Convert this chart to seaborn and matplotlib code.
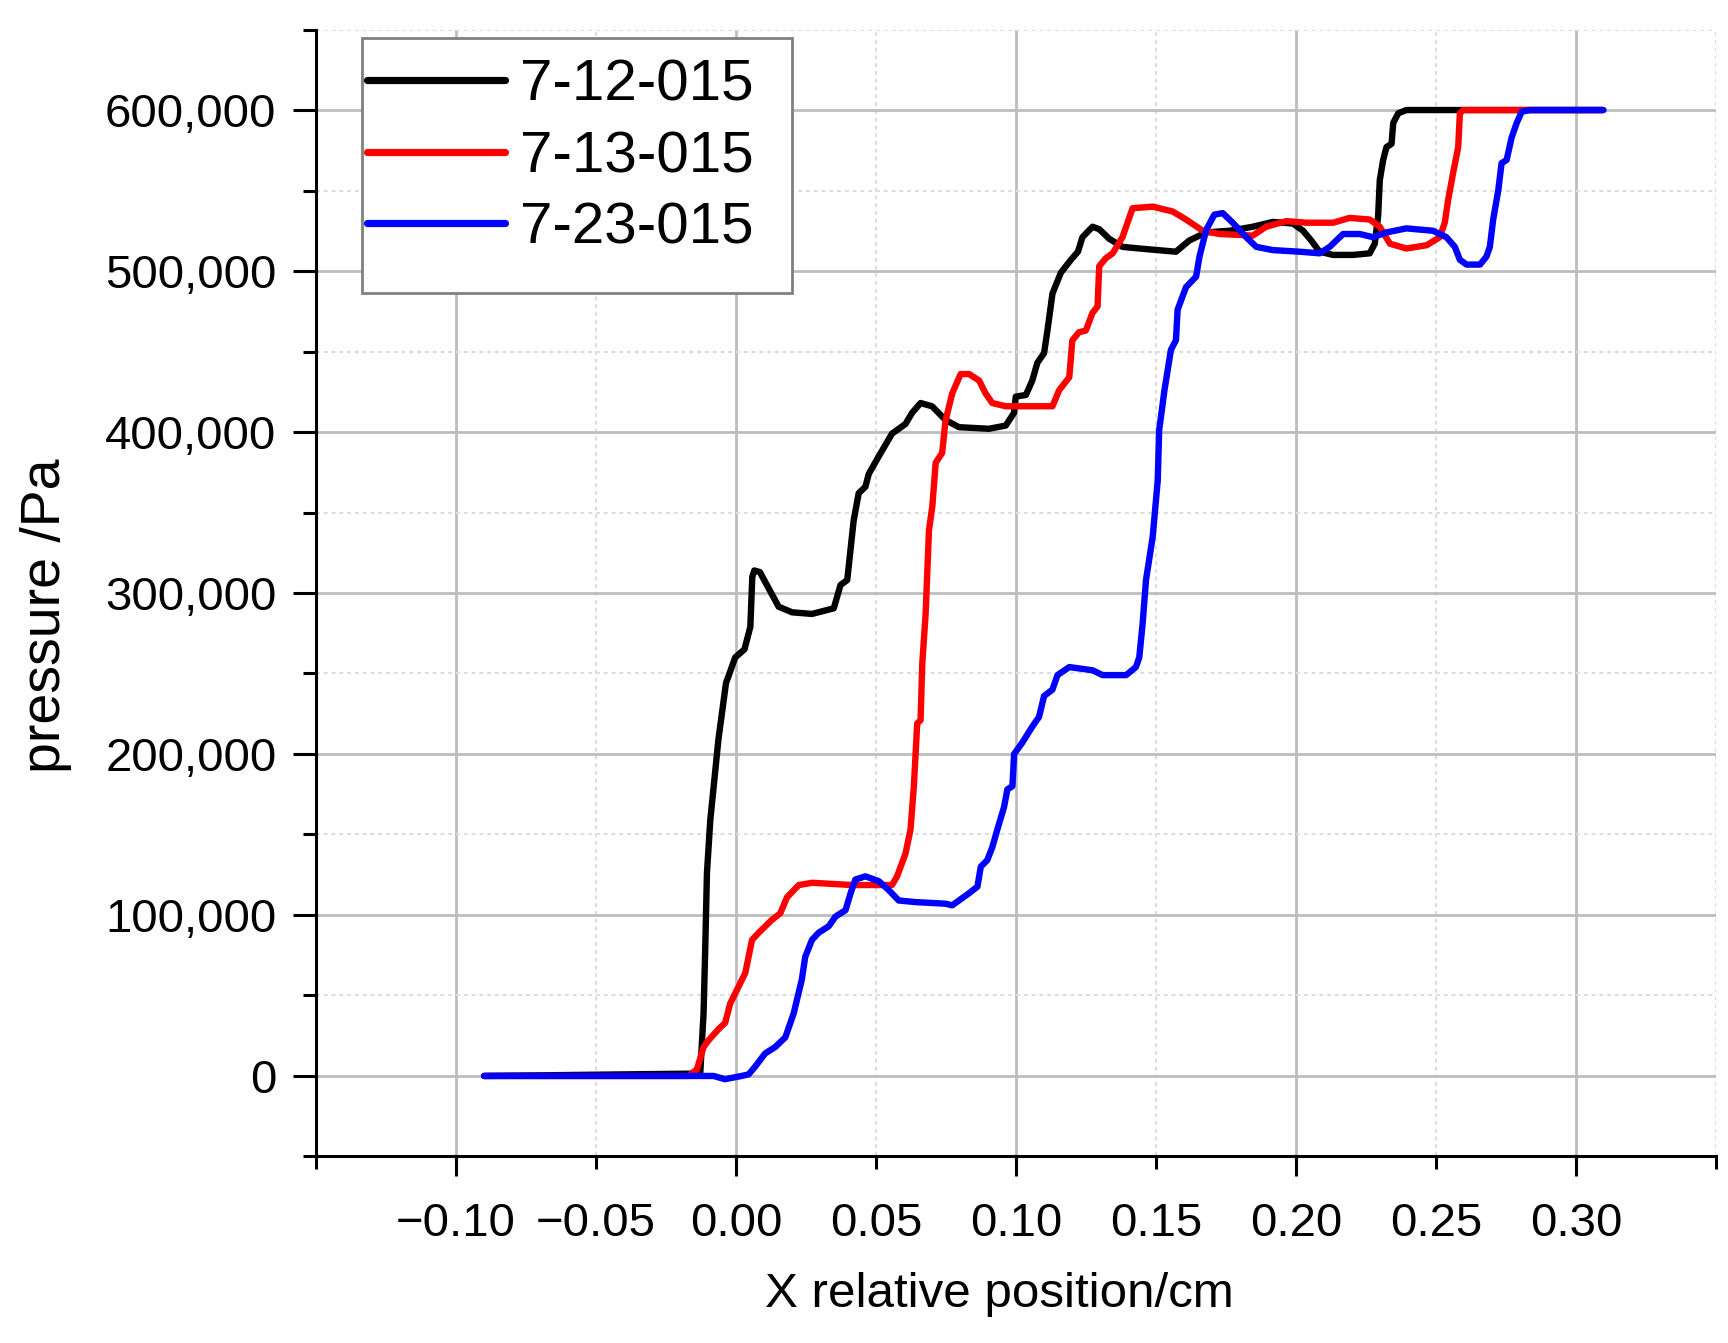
import numpy as np
import pandas as pd
import seaborn as sns
import matplotlib
matplotlib.use("Agg")
import matplotlib.pyplot as plt
from matplotlib.patches import Rectangle
from matplotlib.ticker import FixedLocator, FixedFormatter, MultipleLocator, FuncFormatter

# series (x in cm, y in Pa)
labels = ["7-12-015", "7-13-015", "7-23-015"]
colors = ["#000000", "#ff0000", "#0000ff"]

x_712 = [-0.090, -0.0128, -0.0116, -0.0110, -0.0104, -0.0092, -0.0063, -0.0036, -0.0003, 0.0030,
         0.0051, 0.0058, 0.0065, 0.0085, 0.0152, 0.0200, 0.0271, 0.0349, 0.0373, 0.0397,
         0.0420, 0.0438, 0.0462, 0.0474, 0.0510, 0.0557, 0.0605, 0.0629, 0.0659, 0.0700,
         0.0748, 0.0796, 0.0903, 0.0963, 0.0993, 0.0999, 0.1035, 0.1058, 0.1076, 0.1100,
         0.1112, 0.1130, 0.1160, 0.1196, 0.1221, 0.1237, 0.1273, 0.1297, 0.1333, 0.1380,
         0.1440, 0.1571, 0.1619, 0.1679, 0.1762, 0.1845, 0.1917, 0.1989, 0.2025, 0.2054,
         0.2084, 0.2132, 0.2203, 0.2263, 0.2281, 0.2293, 0.2299, 0.2311, 0.2323, 0.2341,
         0.2347, 0.2365, 0.2394, 0.2585, 0.3095]
y_712 = [0, 1500, 39000, 80000, 126000, 159000, 209000, 244000, 260000, 265000,
         279000, 310000, 314000, 313000, 291500, 288000, 287000, 290500, 305000, 308000,
         345000, 362000, 366000, 374000, 385000, 399000, 405000, 412000, 418000, 416000,
         407500, 403000, 402000, 404000, 412000, 422000, 423000, 432000, 443000, 449000,
         463000, 486000, 499000, 507000, 512000, 521000, 527500, 526000, 520000, 515000,
         514000, 512000, 519000, 524000, 525000, 527500, 530500, 529500, 525000, 519000,
         512000, 510000, 510000, 511000, 517000, 534000, 556500, 569000, 577000, 579000,
         592000, 598000, 600000, 600000, 600000]

x_713 = [-0.090, -0.0170, -0.0140, -0.0116, -0.0099, -0.0063, -0.0039, -0.0021, 0.0009, 0.0033,
         0.0057, 0.0081, 0.0128, 0.0158, 0.0182, 0.0224, 0.0272, 0.0414, 0.0557, 0.0575,
         0.0605, 0.0623, 0.0635, 0.0647, 0.0659, 0.0665, 0.0677, 0.0689, 0.0701, 0.0713,
         0.0736, 0.0748, 0.0772, 0.0802, 0.0832, 0.0868, 0.0891, 0.0915, 0.0963, 0.1130,
         0.1154, 0.1190, 0.1201, 0.1225, 0.1249, 0.1273, 0.1291, 0.1297, 0.1321, 0.1345,
         0.1380, 0.1416, 0.1488, 0.1559, 0.1607, 0.1667, 0.1726, 0.1845, 0.1893, 0.1965,
         0.2037, 0.2132, 0.2191, 0.2263, 0.2299, 0.2335, 0.2394, 0.2466, 0.2513, 0.2531,
         0.2543, 0.2561, 0.2579, 0.2585, 0.2597, 0.3095]
y_713 = [0, 0, 4000, 18000, 22000, 29000, 33000, 45000, 55500, 64000,
         84500, 89000, 97000, 101000, 111000, 118600, 120000, 118600, 118600, 124000,
         138000, 153000, 180000, 219000, 221000, 256000, 287000, 339000, 354000, 381000,
         387000, 407000, 424000, 436000, 436000, 432000, 424000, 418000, 416000, 416000,
         426000, 434000, 457000, 462000, 463000, 474000, 478000, 503000, 508000, 511000,
         521000, 539000, 540000, 537000, 532000, 525000, 523000, 522000, 527500, 531000,
         530000, 530000, 533000, 532000, 527500, 517000, 514000, 516000, 521000, 530000,
         544000, 561000, 577000, 598000, 600000, 600000]

x_723 = [-0.090, -0.0080, -0.0040, 0.0020, 0.0045, 0.0069, 0.0104, 0.0140, 0.0176, 0.0206,
         0.0235, 0.0247, 0.0271, 0.0295, 0.0331, 0.0355, 0.0391, 0.0409, 0.0426, 0.0462,
         0.0510, 0.0545, 0.0581, 0.0641, 0.0748, 0.0772, 0.0796, 0.0832, 0.0862, 0.0874,
         0.0897, 0.0915, 0.0933, 0.0957, 0.0969, 0.0987, 0.0993, 0.1022, 0.1058, 0.1082,
         0.1100, 0.1130, 0.1148, 0.1190, 0.1273, 0.1309, 0.1393, 0.1428, 0.1440, 0.1452,
         0.1464, 0.1488, 0.1506, 0.1511, 0.1530, 0.1553, 0.1571, 0.1577, 0.1607, 0.1643,
         0.1655, 0.1679, 0.1708, 0.1738, 0.1774, 0.1822, 0.1858, 0.1917, 0.2013, 0.2084,
         0.2120, 0.2168, 0.2227, 0.2275, 0.2323, 0.2394, 0.2489, 0.2537, 0.2567, 0.2585,
         0.2609, 0.2657, 0.2680, 0.2692, 0.2704, 0.2722, 0.2734, 0.2752, 0.2770, 0.2788,
         0.2806, 0.2836, 0.3098]
y_723 = [0, 0, -2000, 0, 1000, 6000, 14000, 18000, 24000, 39000,
         60000, 74000, 84500, 89000, 93000, 99000, 103000, 113500, 122000, 124000,
         121000, 115500, 109000, 108000, 107000, 106000, 109000, 113500, 117600, 130000,
         134000, 142000, 153000, 167000, 178000, 180000, 200000, 207000, 217000, 223000,
         236000, 240000, 249000, 254000, 252000, 249000, 249000, 254000, 260000, 281000,
         308000, 335000, 370000, 401000, 426000, 451000, 457000, 476000, 490000, 496500,
         509000, 525500, 535000, 536000, 530000, 521000, 515000, 513000, 512000, 511000,
         515000, 523000, 523000, 521000, 524000, 526500, 525000, 521000, 515000, 507000,
         504000, 504000, 509000, 515000, 532000, 550000, 567000, 569000, 583000, 592000,
         599000, 600000, 600000]

x_major = [-0.10, 0.00, 0.10, 0.20, 0.30]
x_major_labels = ["\u22120.10", "0.00", "0.10", "0.20", "0.30"]
x_minor = [-0.15, -0.05, 0.05, 0.15, 0.25, 0.35]
x_minor_labels = ["", "\u22120.05", "0.05", "0.15", "0.25", ""]

df = pd.concat([
    pd.DataFrame({"x": x_712, "y": y_712, "run": labels[0]}),
    pd.DataFrame({"x": x_713, "y": y_713, "run": labels[1]}),
    pd.DataFrame({"x": x_723, "y": y_723, "run": labels[2]}),
], ignore_index=True)

sns.set_theme(style="white")
plt.rcParams["font.family"] = ["Liberation Sans", "DejaVu Sans"]
plt.rcParams["text.color"] = "black"
plt.rcParams["axes.labelcolor"] = "black"
plt.rcParams["xtick.color"] = "black"
plt.rcParams["ytick.color"] = "black"

fig = plt.figure(figsize=(17.28, 13.43), dpi=100)
ax = fig.add_axes([0.1829, 0.1389, 0.8102, 0.8391])

sns.lineplot(data=df, x="x", y="y", hue="run", palette=colors, sort=False,
             estimator=None, ax=ax, legend=True)
for line in ax.lines:
    line.set_linewidth(4.6)
    line.set_solid_capstyle("round")
    line.set_solid_joinstyle("round")

ax.set_xlim(-0.15, 0.35)
ax.set_ylim(-50000, 650000)

ax.xaxis.set_major_locator(FixedLocator(x_major))
ax.xaxis.set_major_formatter(FixedFormatter(x_major_labels))
ax.xaxis.set_minor_locator(FixedLocator(x_minor))
ax.xaxis.set_minor_formatter(FixedFormatter(x_minor_labels))
ax.yaxis.set_major_locator(MultipleLocator(100000))
ax.yaxis.set_minor_locator(MultipleLocator(50000))
ax.yaxis.set_major_formatter(FuncFormatter(lambda v, _: f"{int(round(v)):,}"))

ax.set_axisbelow(True)
ax.grid(which="major", color="#bdbdbd", linewidth=2.0, linestyle="-")
ax.grid(which="minor", color="#dcdcdc", linewidth=1.4, linestyle=(0, (2, 2)))

for side in ["top", "right"]:
    ax.spines[side].set_visible(False)
for side in ["left", "bottom"]:
    ax.spines[side].set_color("black")
    ax.spines[side].set_linewidth(2.2)

ax.tick_params(axis="x", which="major", bottom=True, direction="out", length=14.4,
               width=2.2, color="black", pad=18.4, labelsize=34)
ax.tick_params(axis="x", which="minor", bottom=True, direction="out", length=9.4,
               width=2.2, color="black", pad=23.4, labelsize=34)
ax.tick_params(axis="y", which="major", left=True, direction="out", length=16.5,
               width=2.2, color="black", pad=12, labelsize=34)
ax.tick_params(axis="y", which="minor", left=True, direction="out", length=9.4,
               width=2.2, color="black")

ax.set_xlabel("X relative position/cm", fontsize=35.5)
ax.set_ylabel("pressure /Pa", fontsize=40)
ax.xaxis.set_label_coords(0.488, -0.1025)
ax.yaxis.set_label_coords(-0.1743, 0.4796)

# legend box drawn as its own frame, entries placed inside it
box = Rectangle((0.0325, 0.7662), 0.3075, 0.2263, transform=ax.transAxes,
                facecolor="white", edgecolor="#808080", linewidth=2.0, zorder=4.5)
ax.add_patch(box)

handles, _ = ax.get_legend_handles_labels()
leg = ax.legend(handles, labels, loc="upper left", bbox_to_anchor=(0.0364, 0.974),
                borderaxespad=0, fontsize=42, frameon=False, handlelength=2.36,
                handletextpad=0.26, labelspacing=0.3, borderpad=0)
for line in leg.get_lines():
    line.set_linewidth(5.2)

fig.savefig("out.png", dpi=100)
